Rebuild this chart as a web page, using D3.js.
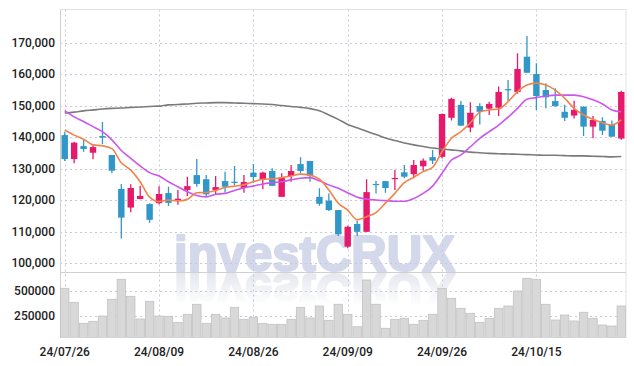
<!DOCTYPE html>
<html>
<head>
<meta charset="utf-8">
<script src="https://cdn.jsdelivr.net/npm/d3@7"></script>
<style>
  html, body { margin: 0; padding: 0; background: #fff; }
  svg { display: block; }
</style>
</head>
<body>
<svg id="chart" width="634" height="366"></svg>
<script>
// ---------- DATA ----------
const dates = [
  "24/07/26","24/07/29","24/07/30","24/07/31","24/08/01","24/08/02","24/08/05","24/08/06","24/08/07","24/08/08",
  "24/08/09","24/08/12","24/08/13","24/08/14","24/08/16","24/08/19","24/08/20","24/08/21","24/08/22","24/08/23",
  "24/08/26","24/08/27","24/08/28","24/08/29","24/08/30","24/09/02","24/09/03","24/09/04","24/09/05","24/09/06",
  "24/09/09","24/09/10","24/09/11","24/09/12","24/09/13","24/09/19","24/09/20","24/09/23","24/09/24","24/09/25",
  "24/09/26","24/09/27","24/09/30","24/10/02","24/10/04","24/10/07","24/10/08","24/10/10","24/10/11","24/10/14",
  "24/10/15","24/10/16","24/10/17","24/10/18","24/10/21","24/10/22","24/10/23","24/10/24","24/10/25","24/10/28"
];
const opens = [
  140600,133000,137100,135000,140300,134300,123500,117600,120300,118700,
  119000,122200,120000,123200,127900,126600,123200,126000,125800,123800,
  128700,126400,129200,121000,127600,131400,132400,121000,119800,116800,
  105200,112400,109900,125100,126000,126700,128800,128200,130700,133600,
  133700,146100,150200,143000,149800,149000,149300,155200,154300,165500,
  160000,154900,151400,148000,146800,149600,143300,145100,143800,139500
];
const highs = [
  141700,138500,139300,137400,144800,134300,125100,125000,124500,119000,
  124400,124200,123200,127400,133000,127900,127600,129000,130800,127900,
  131400,129000,130100,128500,131100,133600,132400,123700,122100,116800,
  111800,113400,126600,126100,126000,129500,131100,132700,133200,135900,
  147500,152500,151400,151000,150700,151200,156000,158100,166600,172100,
  163400,157100,155500,150200,151500,149800,146700,146300,145200,154700
];
const lows = [
  132400,131700,135300,132900,137700,128500,107800,116100,120200,112800,
  118600,118100,118500,121300,124200,121000,121800,122400,124800,122300,
  125500,123400,124500,121000,125800,128500,125800,118200,116500,108600,
  104700,108600,109900,122100,122300,123200,126900,126900,129300,131400,
  133200,145200,143600,141500,144000,147000,146700,151400,153700,160400,
  148600,149100,149600,145100,145900,140300,139600,140600,140100,139100
];
const closes = [
  133000,138200,136200,136800,139800,129300,114400,123800,121300,113700,
  121900,119100,120400,124400,125100,121800,124100,124200,125500,125700,
  127300,128700,124500,127200,129200,129200,127700,118800,116800,109100,
  111500,109900,122500,124800,123800,127000,127400,131100,132500,132500,
  147300,152100,143600,147700,148000,150500,154300,154900,161600,160400,
  153000,152600,149800,146100,148600,143300,145400,142000,140100,154300
];
const volumes = [
  522000,382000,172000,192000,245000,412000,612000,442000,215000,392000,
  245000,242000,182000,262000,362000,172000,262000,225000,332000,212000,
  232000,172000,162000,162000,212000,332000,225000,345000,202000,362000,
  262000,138000,605000,362000,122000,212000,222000,162000,202000,262000,
  522000,422000,322000,272000,182000,222000,322000,345000,495000,622000,
  612000,362000,205000,255000,195000,282000,222000,155000,145000,345000
];
// moving averages as drawn (5, 20 and long period)
const ma5 = [
  142200,140600,139300,137500,137200,136300,131800,129500,125800,120900,
  119500,120000,119700,120200,122300,122400,123000,124000,124400,124800,
  125800,126600,126700,127100,127600,128200,127900,126600,123200,119000,
  116800,113700,114700,116000,119000,122100,125500,127200,129000,130400,
  135300,139600,141700,144500,147900,148600,148900,151200,154400,156500,
  157100,156500,154900,152300,149100,147000,145600,144500,143800,145400
];
const ma20 = [
  148400,146400,144900,143300,141700,139100,135700,133200,130800,128700,
  127600,125800,124200,122600,121400,121000,121800,122100,123000,123900,
  124400,125100,125500,125800,126400,126900,127100,126100,124800,123700,
  122300,120900,120300,120000,119800,119600,119600,120500,122100,124400,
  128500,132700,134300,136900,139600,141700,143800,146300,149100,152000,
  152500,153000,153300,153300,153300,152800,151800,150500,148600,148000
];
const maLong = [
  147600,147900,148300,148600,148900,149100,149200,149400,149500,149700,
  149800,150200,150300,150500,150700,150800,150900,150900,150800,150700,
  150600,150500,150300,150000,149700,149400,149000,148300,147000,145600,
  144000,142900,141800,140800,139700,138900,138100,137500,137000,136500,
  136200,135900,135600,135200,135000,134800,134700,134600,134500,134400,
  134300,134200,134200,134100,134000,134000,133900,133800,133700,133800
];
const priceTicks = [100000,110000,120000,130000,140000,150000,160000,170000];
const volumeTicks = [250000, 500000];
const dateTicks = ["24/07/26","24/08/09","24/08/26","24/09/09","24/09/26","24/10/15"];

// ---------- LAYOUT ----------
const L = 60, R = 626, T = 9.5, SEP = 272, B = 337.5;
const UP = "#e6196a", DOWN = "#3196c8";
const GRID = "#c9c9dc";

const svg = d3.select("#chart");
const x = d3.scaleBand().domain(dates).range([L, R]).padding(0);
const bw = x.bandwidth();
const cx = d => x(d) + bw / 2;
const yP = d3.scaleLinear().domain([100000, 170000]).range([263, 42.5]);
const yV = d3.scaleLinear().domain([250000, 500000]).range([315.5, 290.5]);

const defs = svg.append("defs");
defs.append("clipPath").attr("id", "priceClip").append("rect")
  .attr("x", L).attr("y", T).attr("width", R - L).attr("height", SEP - T);
defs.append("clipPath").attr("id", "volClip").append("rect")
  .attr("x", L).attr("y", SEP).attr("width", R - L).attr("height", B - SEP);
const grad = defs.append("linearGradient").attr("id", "fade")
  .attr("gradientUnits", "userSpaceOnUse").attr("x1", 0).attr("x2", 0).attr("y1", SEP).attr("y2", SEP + 34);
grad.append("stop").attr("offset", 0).attr("stop-color", "#fff").attr("stop-opacity", 0.95);
grad.append("stop").attr("offset", 1).attr("stop-color", "#fff").attr("stop-opacity", 0);
defs.append("mask").attr("id", "fadeMask").attr("maskUnits", "userSpaceOnUse")
  .attr("x", 0).attr("y", 0).attr("width", 634).attr("height", 366)
  .append("rect").attr("x", 0).attr("y", SEP).attr("width", 634).attr("height", 40).attr("fill", "url(#fade)");

// ---------- WATERMARK ----------
const wmX = 174, wmBase = 270.5;
defs.append("text").attr("id", "wm").attr("x", wmX).attr("y", wmBase)
  .attr("font-family", "Liberation Sans, Arial, sans-serif").attr("font-weight", "bold")
  .attr("font-size", 50).attr("textLength", 281).attr("lengthAdjust", "spacingAndGlyphs")
  .attr("stroke-width", 2.2).attr("stroke-linejoin", "round")
  .text("investCRUX");
svg.append("use").attr("href", "#wm").attr("fill", "#d3d9ea").attr("stroke", "#d3d9ea");
svg.append("g").attr("mask", "url(#fadeMask)")
  .append("use").attr("href", "#wm")
  .attr("transform", `translate(0,${2 * SEP}) scale(1,-1)`)
  .attr("fill", "#e3e5ed").attr("stroke", "#e3e5ed");

// ---------- GRID ----------
const grid = svg.append("g").attr("stroke", GRID).attr("stroke-width", 1).attr("stroke-dasharray", "2,3");
grid.selectAll(".hp").data(priceTicks).join("line").attr("class", "hp")
  .attr("x1", L).attr("x2", R).attr("y1", d => Math.round(yP(d)) + 0.5).attr("y2", d => Math.round(yP(d)) + 0.5);
grid.selectAll(".hv").data(volumeTicks).join("line").attr("class", "hv")
  .attr("x1", L).attr("x2", R).attr("y1", d => Math.round(yV(d)) + 0.5).attr("y2", d => Math.round(yV(d)) + 0.5);
grid.selectAll(".vx").data(dateTicks).join("line").attr("class", "vx")
  .attr("x1", d => Math.round(cx(d)) + 0.5).attr("x2", d => Math.round(cx(d)) + 0.5)
  .attr("y1", T).attr("y2", B);

// ---------- FRAME ----------
svg.append("rect").attr("x", L + 0.5).attr("y", T).attr("width", R - L - 0.5).attr("height", B - T)
  .attr("fill", "none").attr("stroke", "#e2e2e2");
svg.append("line").attr("x1", L + 0.5).attr("x2", L + 0.5).attr("y1", T).attr("y2", B)
  .attr("stroke", "#cfcfcf");
svg.append("line").attr("x1", L).attr("x2", R).attr("y1", SEP + 0.5).attr("y2", SEP + 0.5)
  .attr("stroke", "#d0d0d0");

// ---------- VOLUME ----------
const vol = svg.append("g").attr("clip-path", "url(#volClip)");
vol.selectAll("rect").data(dates).join("rect")
  .attr("x", d => x(d) + 0.5).attr("width", bw - 1)
  .attr("y", (d, i) => yV(volumes[i])).attr("height", (d, i) => B - yV(volumes[i]))
  .attr("fill", "#d8d8d8").attr("stroke", "#c2c2c2").attr("stroke-width", 0.8);

// ---------- CANDLES ----------
const candles = svg.append("g").attr("clip-path", "url(#priceClip)");
const color = i => closes[i] >= opens[i] ? UP : DOWN;
candles.selectAll("line").data(dates).join("line")
  .attr("x1", d => cx(d)).attr("x2", d => cx(d))
  .attr("y1", (d, i) => yP(highs[i])).attr("y2", (d, i) => yP(lows[i]))
  .attr("stroke", (d, i) => color(i)).attr("stroke-width", 1.3);
const bodyW = bw * 0.68;
candles.selectAll("rect").data(dates).join("rect")
  .attr("x", d => cx(d) - bodyW / 2).attr("width", bodyW)
  .attr("y", (d, i) => yP(Math.max(opens[i], closes[i])))
  .attr("height", (d, i) => Math.max(1.2, Math.abs(yP(opens[i]) - yP(closes[i]))))
  .attr("fill", (d, i) => color(i));

// ---------- MOVING AVERAGES ----------
const lineGen = arr => d3.line().x(d => cx(d)).y((d, i) => yP(arr[i])).curve(d3.curveMonotoneX)(dates);
const maG = svg.append("g").attr("clip-path", "url(#priceClip)").attr("fill", "none");
maG.append("path").attr("d", lineGen(maLong)).attr("stroke", "#7a7a7a").attr("stroke-width", 1.6);
maG.append("path").attr("d", lineGen(ma20)).attr("stroke", "#cc55ee").attr("stroke-width", 1.6);
maG.append("path").attr("d", lineGen(ma5)).attr("stroke", "#f0844c").attr("stroke-width", 1.6);

// ---------- AXES ----------
const font = "Roboto, 'Liberation Sans', sans-serif";
const yAx = svg.append("g").attr("transform", `translate(${L - 5},0)`)
  .call(d3.axisLeft(yP).tickValues(priceTicks).tickFormat(d3.format(",")).tickSize(0).tickPadding(0));
const vAx = svg.append("g").attr("transform", `translate(${L - 5},0)`)
  .call(d3.axisLeft(yV).tickValues(volumeTicks).tickFormat(d3.format("d")).tickSize(0).tickPadding(0));
const xAx = svg.append("g").attr("transform", `translate(0,${B})`)
  .call(d3.axisBottom(x).tickValues(dateTicks).tickSize(0).tickPadding(10));
[yAx, vAx, xAx].forEach(g => {
  g.select(".domain").remove();
  g.selectAll("text").attr("font-family", font).attr("font-size", 12)
    .attr("font-weight", 500).attr("fill", "#222");
});
</script>
</body>
</html>
